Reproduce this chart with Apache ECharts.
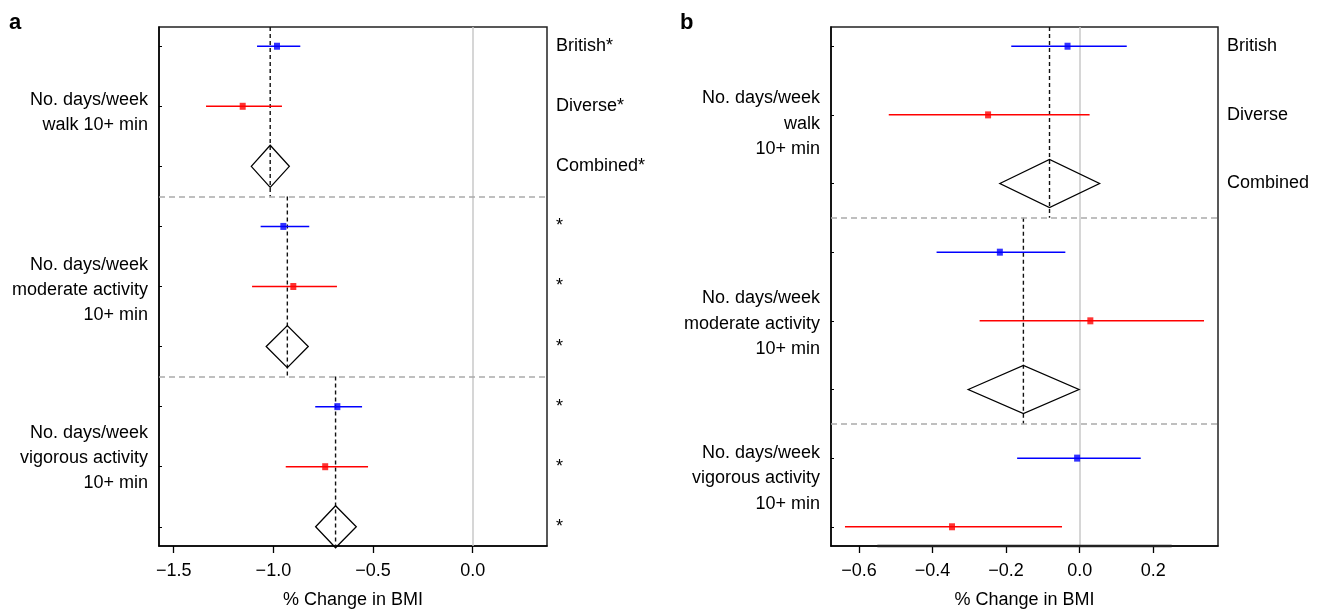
<!DOCTYPE html>
<html><head><meta charset="utf-8">
<script src="https://cdn.jsdelivr.net/npm/echarts@6/dist/echarts.min.js"></script>
<style>html,body{margin:0;padding:0;background:#fff}#c{width:1322px;height:610px}</style>
</head><body><div id="c"></div>
<script>
// ---------- DATA ----------
// Panel a: three activity groups, rows British / Diverse / Combined
const groupLabelsA = ['No. days/week\nwalk 10+ min', 'No. days/week\nmoderate activity\n10+ min', 'No. days/week\nvigorous activity\n10+ min'];
const groupLabelPosA = [2.1, 5.06, 7.85];
const rightLabelsA = ['British*', 'Diverse*', 'Combined*', '*', '*', '*', '*', '*', '*'];
const britishEstA = [-0.982, -0.950, -0.679];
const britishLoA  = [-1.082, -1.064, -0.790];
const britishHiA  = [-0.865, -0.820, -0.555];
const diverseEstA = [-1.154, -0.900, -0.740];
const diverseLoA  = [-1.338, -1.107, -0.938];
const diverseHiA  = [-0.957, -0.681, -0.525];
const combinedEstA = [-1.016, -0.930, -0.688];
const combinedLoA  = [-1.111, -1.036, -0.788];
const combinedHiA  = [-0.920, -0.825, -0.584];
const ticksA = [-1.5, -1.0, -0.5, 0.0];

// Panel b
const groupLabelsB = ['No. days/week\nwalk\n10+ min', 'No. days/week\nmoderate activity\n10+ min', 'No. days/week\nvigorous activity\n10+ min'];
const groupLabelPosB = [2.13, 5.04, 7.29];
const rightLabelsB = ['British', 'Diverse', 'Combined'];
const britishEstB = [-0.033, -0.217, -0.007];
const britishLoB  = [-0.186, -0.389, -0.170];
const britishHiB  = [0.128, -0.039, 0.166];
const diverseEstB = [-0.249, 0.029, -0.347];
const diverseLoB  = [-0.519, -0.272, -0.638];
const diverseHiB  = [0.027, 0.338, -0.048];
const combinedEstB = [-0.082, -0.153];
const combinedLoB  = [-0.217, -0.303];
const combinedHiB  = [0.054, -0.002];
const ticksB = [-0.6, -0.4, -0.2, 0.0, 0.2];

// ---------- BUILD ----------
const FONT = '"Liberation Sans", Arial, Helvetica, sans-serif';
const FS = 18;
const BLUE = '#0000ff', RED = '#ff0000';
const DIAMOND_H = 0.35;

function fmt(v) { return (v < 0 ? '\u2212' : '') + Math.abs(v).toFixed(1); }

function nearestLabel(labels, pos) {
  return function (v) {
    let best = 0, d = Infinity;
    pos.forEach((p, i) => { if (Math.abs(p - v) < d) { d = Math.abs(p - v); best = i; } });
    return d < 0.01 ? labels[best] : '';
  };
}

function ciSeries(xi, yi, color, rows, lo, hi) {
  return {
    type: 'custom', xAxisIndex: xi, yAxisIndex: yi, z: 5, silent: true,
    data: rows.map((r, i) => [r, lo[i], hi[i]]),
    encode: { x: [1, 2], y: 0 },
    renderItem: function (params, api) {
      const p1 = api.coord([api.value(1), api.value(0)]);
      const p2 = api.coord([api.value(2), api.value(0)]);
      return { type: 'line', shape: { x1: p1[0], y1: p1[1], x2: p2[0], y2: p2[1] }, style: { stroke: color, lineWidth: 1.5 } };
    }
  };
}
function pointSeries(xi, yi, color, rows, est) {
  return {
    type: 'scatter', xAxisIndex: xi, yAxisIndex: yi, z: 6, silent: true,
    symbol: 'rect', symbolSize: [6, 7], itemStyle: { color: color },
    data: rows.map((r, i) => [est[i], r])
  };
}
function diamondSeries(xi, yi, rows, lo, est, hi) {
  return {
    type: 'custom', xAxisIndex: xi, yAxisIndex: yi, z: 6, silent: true,
    data: rows.map((r, i) => [r, lo[i], est[i], hi[i]]),
    encode: { x: [1, 2, 3], y: 0 },
    renderItem: function (params, api) {
      const r = api.value(0);
      const pts = [
        api.coord([api.value(1), r]),
        api.coord([api.value(2), r - DIAMOND_H]),
        api.coord([api.value(3), r]),
        api.coord([api.value(2), r + DIAMOND_H])
      ];
      return { type: 'polygon', shape: { points: pts }, style: { fill: 'rgba(255,255,255,0)', stroke: '#000', lineWidth: 1.3 } };
    }
  };
}
function summarySeries(xi, yi, est, spans) {
  return {
    type: 'custom', xAxisIndex: xi, yAxisIndex: yi, z: 4, silent: true,
    data: est.map((e, i) => [e, spans[i][0], spans[i][1]]),
    encode: { x: 0, y: [1, 2] },
    renderItem: function (params, api) {
      const p1 = api.coord([api.value(0), api.value(1)]);
      const p2 = api.coord([api.value(0), api.value(2)]);
      return { type: 'line', shape: { x1: p1[0], y1: p1[1], x2: p2[0], y2: p2[1] }, style: { stroke: '#111', lineWidth: 1.4, lineDash: [4, 3] } };
    }
  };
}
function refLines(xi, yi) {
  return {
    type: 'line', xAxisIndex: xi, yAxisIndex: yi, data: [], silent: true, z: 2,
    markLine: {
      silent: true, symbol: 'none', label: { show: false }, animation: false,
      data: [
        { xAxis: 0, lineStyle: { color: '#c8c8c8', width: 1.5, type: 'solid' } },
        { yAxis: 3.5, lineStyle: { color: '#aaaaaa', width: 1.5, type: [6, 4] } },
        { yAxis: 6.5, lineStyle: { color: '#aaaaaa', width: 1.5, type: [6, 4] } }
      ]
    }
  };
}

const yMinA = 0.68, yMaxA = 9.32;
const yMinB = 0.72, yMaxB = 8.28;

const rowsBritA = [1, 4, 7], rowsDivA = [2, 5, 8], rowsCombA = [3, 6, 9];
const rowsBritB = [1, 4, 7], rowsDivB = [2, 5, 8], rowsCombB = [3, 6];

function xAxisCfg(gi, min, max, ticks) {
  return {
    type: 'value', gridIndex: gi, min: min, max: max, position: 'bottom',
    splitLine: { show: false },
    axisLine: { show: true, onZero: false, lineStyle: { color: '#000', width: 1.5 } },
    axisTick: { show: true, customValues: ticks, length: 7, lineStyle: { color: '#000', width: 1.3 } },
    axisLabel: { customValues: ticks, formatter: fmt, margin: 16, color: '#000', fontSize: FS, fontFamily: FONT },
    name: '% Change in BMI', nameLocation: 'middle', nameGap: 45,
    nameTextStyle: { color: '#000', fontSize: FS, fontFamily: FONT }
  };
}
function yLeftCfg(gi, min, max, rows, labels, pos, lh) {
  return {
    type: 'value', gridIndex: gi, min: min, max: max, inverse: true, position: 'left',
    splitLine: { show: false },
    axisLine: { show: true, onZero: false, lineStyle: { color: '#000', width: 1.5 } },
    axisTick: { show: true, inside: true, length: 3, customValues: rows, lineStyle: { color: '#000' } },
    axisLabel: { customValues: pos, formatter: nearestLabel(labels, pos), margin: 11, align: 'right',
      color: '#000', fontSize: FS, fontFamily: FONT, lineHeight: lh }
  };
}
function yRightCfg(gi, min, max, labels) {
  const pos = labels.map((_, i) => i + 1);
  return {
    type: 'value', gridIndex: gi, min: min, max: max, inverse: true, position: 'right',
    splitLine: { show: false }, axisLine: { show: false }, axisTick: { show: false },
    axisLabel: { customValues: pos, formatter: nearestLabel(labels, pos), margin: 9, align: 'left',
      color: '#000', fontSize: FS, fontFamily: FONT }
  };
}

const series = [
  refLines(0, 0),
  summarySeries(0, 0, combinedEstA, [[yMinA, 3.5], [3.5, 6.5], [6.5, yMaxA]]),
  ciSeries(0, 0, BLUE, rowsBritA, britishLoA, britishHiA),
  ciSeries(0, 0, RED, rowsDivA, diverseLoA, diverseHiA),
  pointSeries(0, 0, BLUE, rowsBritA, britishEstA),
  pointSeries(0, 0, RED, rowsDivA, diverseEstA),
  diamondSeries(0, 0, rowsCombA, combinedLoA, combinedEstA, combinedHiA),

  refLines(1, 2),
  summarySeries(1, 2, combinedEstB, [[yMinB, 3.5], [3.5, 6.5]]),
  ciSeries(1, 2, BLUE, rowsBritB, britishLoB, britishHiB),
  ciSeries(1, 2, RED, rowsDivB, diverseLoB, diverseHiB),
  pointSeries(1, 2, BLUE, rowsBritB, britishEstB),
  pointSeries(1, 2, RED, rowsDivB, diverseEstB),
  diamondSeries(1, 2, rowsCombB, combinedLoB, combinedEstB, combinedHiB),
  { type: 'line', xAxisIndex: 1, yAxisIndex: 2, silent: true, z: 7, symbol: 'none', clip: false,
    lineStyle: { color: '#222', width: 2.6 }, data: [[-0.55, yMaxB], [0.25, yMaxB]] }
];

const chart = echarts.init(document.getElementById('c'), null, { renderer: 'canvas' });
chart.setOption({
  animation: false,
  backgroundColor: '#fff',
  textStyle: { fontFamily: FONT },
  grid: [
    { left: 159, right: 775, top: 27, bottom: 64, show: true, borderColor: '#222', borderWidth: 1.5, backgroundColor: 'transparent', outerBoundsMode: 'none', containLabel: false },
    { left: 831, right: 104, top: 27, bottom: 64, show: true, borderColor: '#222', borderWidth: 1.5, backgroundColor: 'transparent', outerBoundsMode: 'none', containLabel: false }
  ],
  xAxis: [xAxisCfg(0, -1.574, 0.373, ticksA), xAxisCfg(1, -0.676, 0.376, ticksB)],
  yAxis: [
    yLeftCfg(0, yMinA, yMaxA, [1, 2, 3, 4, 5, 6, 7, 8, 9], groupLabelsA, groupLabelPosA, 25),
    yRightCfg(0, yMinA, yMaxA, rightLabelsA),
    yLeftCfg(1, yMinB, yMaxB, [1, 2, 3, 4, 5, 6, 7, 8], groupLabelsB, groupLabelPosB, 25.5),
    yRightCfg(1, yMinB, yMaxB, rightLabelsB)
  ],
  graphic: [
    { type: 'text', left: 9, top: 12, style: { text: 'a', fontSize: 22, fontWeight: 'bold', fontFamily: FONT, fill: '#000' } },
    { type: 'text', left: 680, top: 12, style: { text: 'b', fontSize: 22, fontWeight: 'bold', fontFamily: FONT, fill: '#000' } }
  ],
  series: series
});
</script></body></html>
